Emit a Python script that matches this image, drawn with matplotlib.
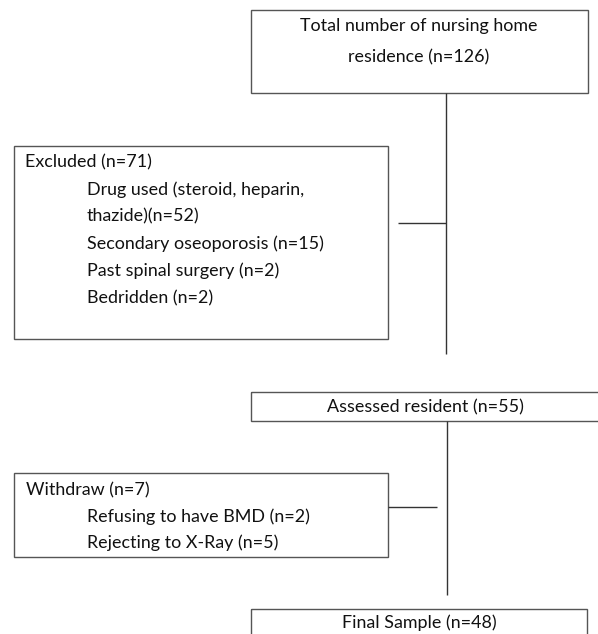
import matplotlib
matplotlib.use("Agg")
import matplotlib.pyplot as plt
from matplotlib.patches import Rectangle

# ----
# Flowchart content
# ----
top_lines = ["Total number of nursing home", "residence (n=126)"]
excluded_title = "Excluded (n=71)"
excluded_items = ["Drug used (steroid, heparin,", "thazide)(n=52)",
                  "Secondary oseoporosis (n=15)", "Past spinal surgery (n=2)",
                  "Bedridden (n=2)"]
assessed_label = "Assessed resident (n=55)"
withdraw_title = "Withdraw (n=7)"
withdraw_items = ["Refusing to have BMD (n=2)", "Rejecting to X-Ray (n=5)"]
final_label = "Final Sample (n=48)"

W, H = 598, 634
FONT = "Lato"
FS = 12.9
TXT = "#111111"
EDGE = "#555555"
LW = 1.0

fig = plt.figure(figsize=(W / 100, H / 100), dpi=100)
ax = fig.add_axes([0, 0, 1, 1])
ax.set_xlim(0, W)
ax.set_ylim(H, 0)
ax.axis("off")


def box(x0, y0, x1, y1):
    ax.add_patch(Rectangle((x0, y0), x1 - x0, y1 - y0, fill=False,
                           edgecolor=EDGE, linewidth=LW, clip_on=False))


def line(xs, ys):
    ax.plot(xs, ys, color="#333333", linewidth=LW, solid_capstyle="butt")


def txt(x, y, s, ha="left"):
    ax.text(x, y, s, ha=ha, va="center", fontsize=FS, family=FONT, color=TXT)


# ----
# Boxes
# ----
box(251, 10, 588, 93)
box(14, 146, 388, 339)
box(251, 392, 600, 421)
box(14, 473, 388, 557)
box(251, 609, 587, 650)

# ----
# Connectors
# ----
line([446, 446], [93, 354])
line([398, 446], [223, 223])
line([447, 447], [421, 595])
line([388, 437], [507, 507])

# ----
# Text
# ----
for i, s in enumerate(top_lines):
    txt(419, 26 + i * 31, s, ha="center")

txt(25, 162, excluded_title)
for i, s in enumerate(excluded_items):
    txt(87, 189.5 + i * 27.2, s)

txt(425, 407, assessed_label, ha="center")

txt(26, 490, withdraw_title)
for i, s in enumerate(withdraw_items):
    txt(87, 516.5 + i * 26.5, s)

txt(419, 623, final_label, ha="center")

fig.savefig("out.png", dpi=100)
plt.close(fig)
